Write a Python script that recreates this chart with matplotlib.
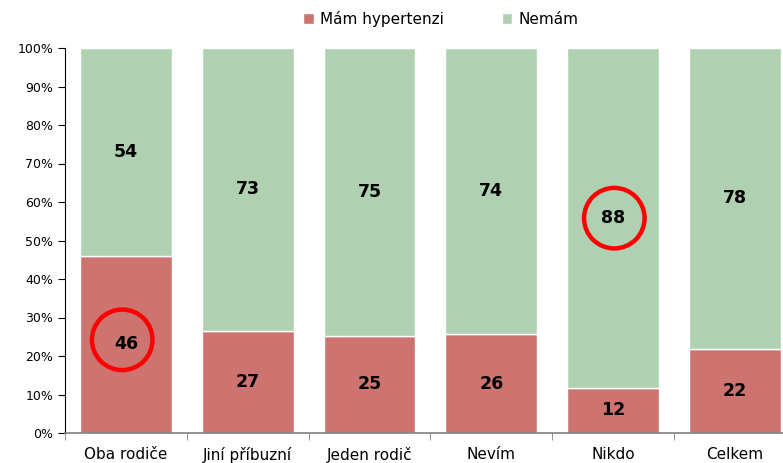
import numpy as np
import matplotlib.pyplot as plt
from matplotlib.ticker import PercentFormatter

categories = ['Oba rodiče', 'Jiní příbuzní', 'Jeden rodič', 'Nevím', 'Nikdo', 'Celkem']
mam = [46, 26.6, 25.3, 25.6, 11.8, 21.9]
nemam = [54, 73.4, 74.7, 74.4, 88.2, 78.1]
mam_labels = ['46', '27', '25', '26', '12', '22']
nemam_labels = ['54', '73', '75', '74', '88', '78']
circled = [(-0.03, 24.2), (0.01 + 4, 55.8)]

red = '#CD7370'
green = '#AFD1B2'

fig = plt.figure(figsize=(7.83, 4.63), dpi=100)
ax = fig.add_axes([65/783, 30/463, 6*121.8/783, 385/463])

x = np.arange(len(categories))
b1 = ax.bar(x, mam, width=0.755, color=red, edgecolor='white', linewidth=1, label='Mám hypertenzi')
b2 = ax.bar(x, nemam, bottom=mam, width=0.755, color=green, edgecolor='white', linewidth=1, label='Nemám')

for i in range(len(categories)):
    ax.text(x[i], mam[i] / 2, mam_labels[i], ha='center', va='center',
            fontsize=12.5, fontweight='bold', color='black')
    ax.text(x[i], mam[i] + nemam[i] / 2, nemam_labels[i], ha='center', va='center',
            fontsize=12.5, fontweight='bold', color='black')

# red circles highlighting values
for cx, cy in circled:
    ax.scatter(cx, cy, s=1900, facecolors='none', edgecolors='#FF0000',
               linewidths=3.2, zorder=5, clip_on=False)

ax.set_xlim(-0.5, 5.5)
ax.set_ylim(0, 100)
ax.set_yticks(np.arange(0, 101, 10))
ax.yaxis.set_major_formatter(PercentFormatter(decimals=0))
ax.set_xticks(x)
ax.set_xticklabels(categories, fontsize=11)
ax.set_xticks(np.arange(-0.5, 6, 1), minor=True)
ax.tick_params(axis='x', which='major', length=0, pad=10)
ax.tick_params(axis='x', which='minor', length=5, direction='out', color='#808080')
ax.tick_params(axis='y', labelsize=9, length=5, direction='out', color='black')

for s in ['top', 'right']:
    ax.spines[s].set_visible(False)
ax.spines['left'].set_color('black')
ax.spines['bottom'].set_color('#808080')
ax.spines['bottom'].set_linewidth(1.2)

fig.legend(handles=[b1, b2], loc='center', bbox_to_anchor=(0.563, 0.96), ncol=2,
           frameon=False, fontsize=11, handlelength=0.7, handleheight=0.7,
           handletextpad=0.4, columnspacing=3.8)

fig.savefig('out.png', dpi=100)
